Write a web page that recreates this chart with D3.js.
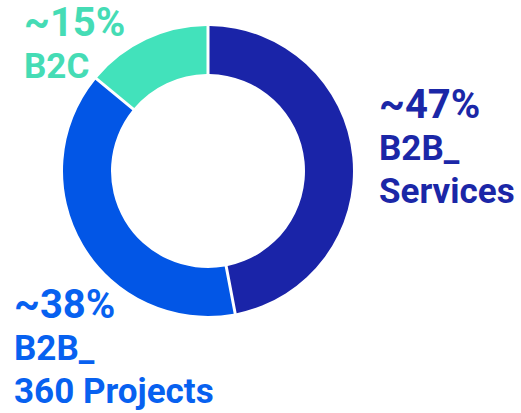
<!DOCTYPE html>
<html>
<head>
<meta charset="utf-8">
<script src="https://cdn.jsdelivr.net/npm/d3@7"></script>
<style>
  html, body { margin: 0; padding: 0; background: #fff; }
  svg { display: block; }
  .pct { font-family: Roboto, "Noto Sans", sans-serif; font-weight: 700; font-size: 40px; }
  .lbl { font-family: Roboto, "Noto Sans", sans-serif; font-weight: 700; font-size: 35px; }
</style>
</head>
<body>
<div id="chart"></div>
<script>
// data
const segments = ['B2B_ Services', 'B2B_ 360 Projects', 'B2C'];
const shares = [47, 39, 14]; // slice sizes as drawn
const pctLabels = ['~47%', '~38%', '~15%'];
const labelLines = [['B2B_', 'Services'], ['B2B_', '360 Projects'], ['B2C']];
const sliceColors = ['#1a24a8', '#0256e6', '#42e2bb'];
const textColors = ['#1b27a7', '#0761f0', '#45dcb5'];

const w = 521, h = 413;
const cx = 208, cy = 171, outerR = 145, innerR = 97;

const svg = d3.select('#chart').append('svg')
  .attr('width', w)
  .attr('height', h);

const pie = d3.pie()
  .sort(null)
  .value(d => d.value);

const arc = d3.arc()
  .innerRadius(innerR)
  .outerRadius(outerR)
  .padRadius(outerR)
  .padAngle(3 / outerR);

const color = d3.scaleOrdinal().domain(segments).range(sliceColors);
const textColor = d3.scaleOrdinal().domain(segments).range(textColors);

const data = segments.map((s, i) => ({ name: s, value: shares[i], pct: pctLabels[i], lines: labelLines[i] }));

const ring = svg.append('g')
  .attr('transform', 'translate(' + cx + ',' + cy + ')');

ring.selectAll('path')
  .data(pie(data))
  .enter()
  .append('path')
  .attr('d', arc)
  .attr('fill', d => color(d.data.name));

// label anchors (left x, baseline of percent line)
const labelPos = {
  'B2B_ Services': { x: 379, y: 118 },
  'B2B_ 360 Projects': { x: 14, y: 318 },
  'B2C': { x: 24, y: 36 }
};

const labels = svg.selectAll('.seglabel')
  .data(data)
  .enter()
  .append('g')
  .attr('class', 'seglabel')
  .attr('transform', d => 'translate(' + labelPos[d.name].x + ',' + labelPos[d.name].y + ')')
  .style('fill', d => textColor(d.name));

labels.append('text')
  .attr('class', 'pct')
  .attr('x', 0)
  .attr('y', 0)
  .text(d => d.pct);

labels.each(function (d) {
  const g = d3.select(this);
  d.lines.forEach((line, i) => {
    g.append('text')
      .attr('class', 'lbl')
      .attr('x', 0)
      .attr('y', 42 + i * 43)
      .text(line);
  });
});
</script>
</body>
</html>
